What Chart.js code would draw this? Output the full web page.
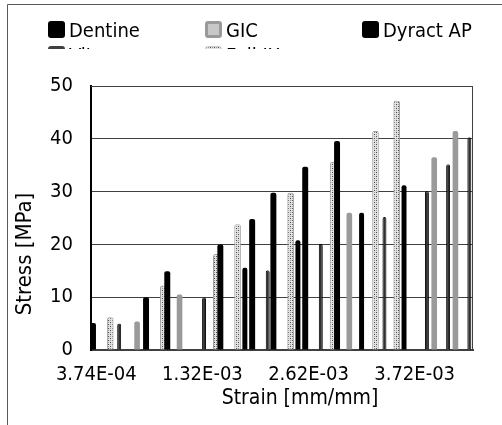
<!DOCTYPE html>
<html>
<head>
<meta charset="utf-8">
<script src="https://cdn.jsdelivr.net/npm/chart.js@4.4.1/dist/chart.umd.min.js"></script>
<style>
  html, body { margin: 0; padding: 0; background: #fff; }
  #wrap { position: relative; width: 502px; height: 425px; overflow: hidden; }
  #wrap canvas { position: absolute; left: 0; top: 0; }
  #legend {
    position: absolute; left: 48px; top: 21px; width: 480px; height: 28px; overflow: hidden;
    display: grid; grid-template-columns: 157px 157px 157px; grid-auto-rows: 25px;
    font-family: "DejaVu Sans Condensed", "DejaVu Sans", sans-serif; font-size: 20px; color: #000;
  }
  .item { display: flex; align-items: flex-start; height: 25px; line-height: 17px; white-space: nowrap; }
  .item span { position: relative; top: 1px; }
  .box { width: 17px; height: 17px; border-radius: 3px; margin-right: 4px; box-sizing: border-box; flex: none; }
</style>
</head>
<body>
<div id="wrap">
  <canvas id="myChart" width="502" height="425"></canvas>
  <div id="legend"></div>
</div>
<script>
// 36 strain categories, a label is shown every 10th one
var tickLabels = ["3.74E-04", "1.32E-03", "2.62E-03", "3.72E-03"];
var labelEvery = 10;
var categoryCount = 36;

var seriesNames = ["Dentine", "GIC", "Dyract AP", "Vitremer", "Fuji IX"];

// stress [MPa], one value per category (null = no bar)
var dentine  = [5.1, null, null, null, null, 10, null, 14.9, null, null, null, null, 20, null, null, 24.8, null, 29.8, null, null, 34.7, null, null, 39.6, null, null, null, null, null, null, null, null, null, null, null, null];
var gic      = [null, null, null, null, 5.4, null, null, null, 10.5, null, null, null, null, null, null, null, null, null, null, null, null, null, null, null, 26, null, null, null, null, null, null, null, 36.5, null, 41.5, null];
var dyract   = [null, null, null, null, null, null, null, null, null, null, null, null, null, null, 15.6, null, null, null, null, 20.8, null, null, null, null, null, 26, null, null, null, 31.2, null, null, null, null, null, null];
var vitremer = [null, null, 5, null, null, null, null, null, null, null, 10, null, null, null, null, null, 15.1, null, null, null, null, 20.1, null, null, null, null, null, 25.2, null, null, null, 30.1, null, 35.2, null, 40.3];
var fujiIX   = [null, 6.2, null, null, null, null, 12.2, null, null, null, null, 18.2, null, 23.8, null, null, null, null, 29.8, null, null, null, 35.6, null, null, null, 41.5, null, 47.2, null, null, null, null, null, null, null];

var yTicks = [0, 10, 20, 30, 40, 50];

var categories = [];
for (var i = 0; i < categoryCount; i++) {
  categories.push(i % labelEvery === 0 ? tickLabels[i / labelEvery] : "");
}

// dotted fill for Fuji IX
function makeDots() {
  var c = document.createElement("canvas");
  c.width = 4; c.height = 4;
  var g = c.getContext("2d");
  g.fillStyle = "#e2e2e2"; g.fillRect(0, 0, 4, 4);
  g.fillStyle = "#4a4a4a"; g.fillRect(0, 0, 1, 1); g.fillRect(2, 2, 1, 1);
  g.fillStyle = "#999999"; g.fillRect(2, 0, 1, 1); g.fillRect(0, 2, 1, 1);
  return c;
}
var dotCanvas = makeDots();
var dots = document.getElementById("myChart").getContext("2d").createPattern(dotCanvas, "repeat");

var FONT = "'DejaVu Sans Condensed', 'DejaVu Sans', sans-serif";

var decor = {
  id: "decor",
  beforeDraw: function(chart) {
    var ctx = chart.ctx;
    ctx.save();
    ctx.strokeStyle = "#595959";
    ctx.lineWidth = 1;
    ctx.beginPath();
    ctx.moveTo(7.5, 425); ctx.lineTo(7.5, 4.5); ctx.lineTo(502, 4.5);
    ctx.stroke();
    ctx.restore();
  },
  afterDraw: function(chart) {
    var ctx = chart.ctx, a = chart.chartArea;
    ctx.save();
    ctx.strokeStyle = "#404040";
    ctx.lineWidth = 1;
    ctx.beginPath();
    ctx.moveTo(a.left, a.top + 0.5); ctx.lineTo(a.right - 0.5, a.top + 0.5); ctx.lineTo(a.right - 0.5, a.bottom);
    ctx.stroke();
    ctx.fillStyle = "#000";
    ctx.font = "21px " + FONT;
    ctx.textAlign = "center";
    ctx.textBaseline = "middle";
    ctx.fillText("Strain [mm/mm]", 300, 399);
    ctx.font = "22px " + FONT;
    ctx.translate(25, 254);
    ctx.rotate(-Math.PI / 2);
    ctx.fillText("Stress [MPa]", 0, 0);
    ctx.restore();
  }
};

var colors = ["#000000", "#9a9a9a", "#000000", "#303030", dots];
var borders = ["#000000", "#8c8c8c", "#000000", "#000000", "#a0a0a0"];
var borderWidths = [0, 0, 0, 1, 1];
var widths = [3.6, 3.4, 3.0, 2.4, 4.0];
var values = [dentine, gic, dyract, vitremer, fujiIX];

var datasets = [];
for (var s = 0; s < seriesNames.length; s++) {
  datasets.push({
    label: seriesNames[s],
    data: values[s],
    backgroundColor: colors[s],
    borderColor: borders[s],
    borderWidth: borderWidths[s],
    borderRadius: { topLeft: 2, topRight: 2, bottomLeft: 0, bottomRight: 0 },
    borderSkipped: "start",
    categoryPercentage: 0.78,
    barPercentage: widths[s]
  });
}

var ctx = document.getElementById("myChart").getContext("2d");
var myChart = new Chart(ctx, {
  type: "bar",
  data: { labels: categories, datasets: datasets },
  options: {
    responsive: false,
    animation: false,
    layout: { padding: { left: 0, right: 29, top: 86, bottom: 0 } },
    plugins: { legend: { display: false }, tooltip: { enabled: false } },
    scales: {
      x: {
        grid: { display: false, drawTicks: false },
        border: { display: true, color: "#404040", width: 2 },
        ticks: {
          autoSkip: false, maxRotation: 0, padding: 13, color: "#000",
          font: { family: FONT, size: 20 }
        },
        afterFit: function(scale) { scale.height = 75; }
      },
      y: {
        min: 0, max: 50,
        afterBuildTicks: function(scale) { scale.ticks = yTicks.map(function(v) { return { value: v }; }); },
        grid: { color: "#404040", lineWidth: 1, drawTicks: false },
        border: { display: true, color: "#000", width: 2 },
        ticks: { padding: 18, color: "#000", font: { family: FONT, size: 20 } },
        afterFit: function(scale) { scale.width = 91; }
      }
    }
  },
  plugins: [decor]
});

// html legend from the datasets, second row clipped like the original
var legendBoxes = [
  "background:#000;",
  "background:#c8c8c8;border:3px solid #9a9a9a;",
  "background:#000;",
  "background:#b0b0b0;border:3px solid #404040;",
  "background-image:url(" + dotCanvas.toDataURL() + ");border:1px solid #ccc;"
];
var legend = document.getElementById("legend");
myChart.data.datasets.forEach(function(d, i) {
  var item = document.createElement("div");
  item.className = "item";
  item.innerHTML = '<div class="box" style="' + legendBoxes[i] + '"></div><span>' + d.label + '</span>';
  legend.appendChild(item);
});
</script>
</body>
</html>
